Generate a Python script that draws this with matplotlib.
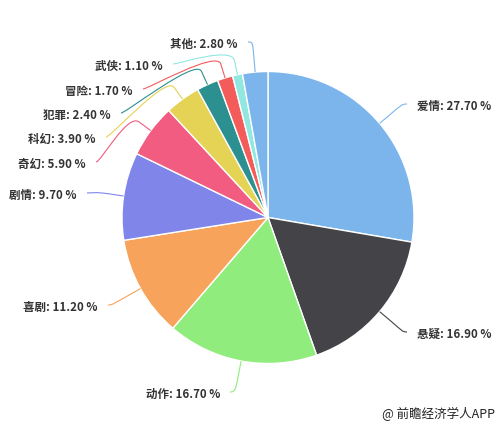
import numpy as np
import matplotlib.pyplot as plt
from matplotlib.path import Path
from matplotlib.patches import PathPatch

plt.rcParams['font.family'] = ['Noto Sans CJK SC', 'DejaVu Sans']

# 电影类型占比
categories = ['爱情', '悬疑', '动作', '喜剧', '剧情', '奇幻', '科幻', '犯罪', '冒险', '武侠', '其他']
shares = [27.70, 16.90, 16.70, 11.20, 9.70, 5.90, 3.90, 2.40, 1.70, 1.10, 2.80]
colors = ['#7cb5ec', '#434348', '#90ed7d', '#f7a35c', '#8085e9', '#f15c80',
          '#e4d354', '#2b908f', '#f45b5b', '#91e8e1', '#7cb5ec']

# mise en page (pixels) : centre, rayon, bout des connecteurs
W, H = 501, 426
cx, cy, R = 268, 217.5, 146
label_end = [(407, 104), (407, 332), (230, 392), (108, 305), (87, 193), (96, 162),
             (106, 137), (121, 113), (143, 89), (173, 64), (248, 42)]
label_side = ['left', 'left', 'right', 'right', 'right', 'right',
              'right', 'right', 'right', 'right', 'right']


def to_data(p):
    return ((p[0] - cx) / R, (cy - p[1]) / R)


fig = plt.figure(figsize=(W / 100, H / 100), dpi=100)
ax = fig.add_axes([0, 0, 1, 1])
ax.set_xlim(-cx / R, (W - cx) / R)
ax.set_ylim(-(H - cy) / R, cy / R)
ax.set_aspect('equal')
ax.axis('off')

wedges, _ = ax.pie(shares, colors=colors, startangle=90, counterclock=False,
                   radius=1, center=(0, 0),
                   wedgeprops=dict(edgecolor='white', linewidth=1))
ax.set_xlim(-cx / R, (W - cx) / R)
ax.set_ylim(-(H - cy) / R, cy / R)

for w, name, val, col, end, side in zip(wedges, categories, shares, colors, label_end, label_side):
    mid = np.deg2rad((w.theta1 + w.theta2) / 2)
    touch = np.array([np.cos(mid), np.sin(mid)])
    brk = touch * 1.1
    lab = np.array(to_data(end))
    dx = -5 / R if side == 'left' else 5 / R
    verts = [lab, (lab[0] + dx, lab[1]), 2 * brk - touch, brk, touch]
    codes = [Path.MOVETO, Path.CURVE4, Path.CURVE4, Path.CURVE4, Path.LINETO]
    ax.add_patch(PathPatch(Path(verts, codes), fill=False, edgecolor=col, lw=0.8))
    off = 10 / R
    tx = lab[0] + off if side == 'left' else lab[0] - off
    ax.text(tx, lab[1] - 2 / R, f'{name}: {val:.2f} %', ha=side, va='center',
            fontsize=8.3, fontweight='bold', color='#333333')

fig.text(495 / W, 1 - 414 / H, '@ 前瞻经济学人APP', ha='right', va='center',
         fontsize=9, color='#222222')

fig.savefig('out.png', dpi=100)
